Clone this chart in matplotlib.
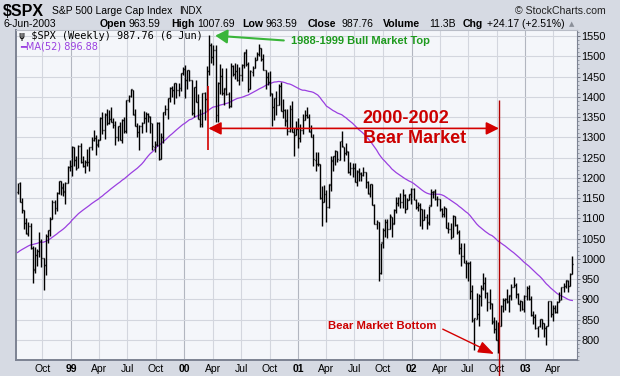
import numpy as np
import pandas as pd
import matplotlib
matplotlib.use('Agg')
import matplotlib.pyplot as plt
import matplotlib.dates as mdates
from matplotlib.ticker import MultipleLocator

plt.rcParams['font.family'] = ['Liberation Sans', 'DejaVu Sans']

# weekly $SPX bars (open, high, low, close); first bar is the week ending 1998-07-17
first_week = '1998-07-17'
bars_1998 = [
    (1164, 1188, 1160, 1186.75), (1186, 1190, 1139, 1140.80), (1140, 1149, 1114, 1120.67),
    (1120, 1121, 1074, 1089.45), (1089, 1100, 1062, 1062.75), (1062, 1092, 1057, 1081.24),
    (1081, 1089, 1025, 1027.14), (1027, 1031, 940, 973.89), (973, 1029, 964, 1009.06),
    (1009, 1025, 981, 1020.09), (1020, 1066, 1005, 1044.75), (1044, 1049, 980, 1002.60),
    (1002, 1003, 923, 984.59), (984, 1062, 959, 1056.42), (1056, 1072, 1039, 1070.67),
    (1070, 1103, 1056, 1098.67), (1098, 1146, 1098, 1141.01), (1141, 1144, 1111, 1125.72),
    (1125, 1164, 1118, 1163.55), (1163, 1193, 1160, 1192.33), (1192, 1193, 1157, 1176.74),
    (1176, 1188, 1155, 1166.46), (1166, 1189, 1136, 1188.03), (1188, 1229, 1188, 1226.27),
    (1226, 1244, 1218, 1229.23),
]
bars_1999 = [
    (1229, 1278, 1205, 1275.09), (1275, 1276, 1229, 1243.26), (1243, 1253, 1220, 1225.19),
    (1225, 1280, 1225, 1279.64), (1279, 1285, 1237, 1239.40), (1239, 1254, 1227, 1230.13),
    (1230, 1243, 1212, 1239.22), (1239, 1272, 1229, 1238.33), (1238, 1275, 1217, 1275.47),
    (1275, 1300, 1268, 1294.59), (1294, 1317, 1290, 1299.29), (1299, 1305, 1257, 1282.80),
    (1282, 1296, 1276, 1293.72), (1293, 1349, 1293, 1348.35), (1348, 1362, 1307, 1319.00),
    (1319, 1360, 1295, 1356.85), (1356, 1370, 1330, 1335.18), (1335, 1367, 1332, 1345.00),
    (1345, 1375, 1337, 1337.80), (1337, 1347, 1324, 1330.29), (1330, 1340, 1281, 1301.84),
    (1301, 1328, 1292, 1327.75), (1327, 1337, 1293, 1293.64), (1293, 1345, 1287, 1342.84),
    (1342, 1349, 1310, 1315.31), (1315, 1391, 1311, 1391.22), (1391, 1405, 1386, 1403.28),
    (1403, 1420, 1399, 1418.78), (1418, 1418, 1355, 1356.94), (1356, 1370, 1328, 1328.72),
    (1328, 1336, 1300, 1313.71), (1313, 1331, 1268, 1327.68), (1327, 1337, 1311, 1336.61),
    (1336, 1365, 1336, 1348.27), (1348, 1362, 1312, 1357.24), (1357, 1359, 1337, 1351.66),
    (1351, 1352, 1310, 1335.42), (1335, 1336, 1268, 1277.36), (1277, 1291, 1263, 1282.81),
    (1282, 1337, 1279, 1336.02), (1336, 1337, 1245, 1247.41), (1247, 1311, 1247, 1301.65),
    (1301, 1362, 1286, 1362.93), (1362, 1379, 1354, 1370.23), (1370, 1397, 1346, 1396.06),
    (1396, 1424, 1387, 1422.00), (1422, 1427, 1400, 1416.62), (1416, 1434, 1383, 1433.30),
    (1433, 1434, 1397, 1417.04), (1417, 1433, 1401, 1421.03), (1421, 1459, 1415, 1458.34),
    (1458, 1473, 1453, 1469.25),
]
bars_2000 = [
    (1469, 1478, 1397, 1441.47), (1441, 1465, 1420, 1465.15), (1465, 1465, 1438, 1441.36),
    (1441, 1441, 1356, 1360.16), (1360, 1425, 1350, 1424.37), (1424, 1441, 1387, 1387.12),
    (1387, 1406, 1346, 1346.09), (1346, 1370, 1325, 1333.36), (1333, 1410, 1325, 1409.17),
    (1409, 1413, 1343, 1395.07), (1395, 1477, 1364, 1464.47), (1464, 1553, 1455, 1527.46),
    (1527, 1534, 1484, 1498.58), (1498, 1527, 1478, 1516.35), (1516, 1528, 1339, 1356.56),
    (1356, 1436, 1339, 1434.54), (1434, 1482, 1407, 1452.43), (1452, 1470, 1405, 1409.57),
    (1409, 1421, 1380, 1420.96), (1420, 1470, 1404, 1406.95), (1406, 1411, 1373, 1378.02),
    (1378, 1483, 1375, 1477.26), (1477, 1479, 1452, 1456.95), (1456, 1483, 1444, 1464.46),
    (1464, 1480, 1438, 1441.48), (1441, 1474, 1430, 1454.60), (1454, 1481, 1438, 1478.90),
    (1478, 1510, 1470, 1509.98), (1509, 1517, 1477, 1480.19), (1480, 1487, 1413, 1419.89),
    (1419, 1467, 1420, 1462.93), (1462, 1475, 1451, 1471.84), (1471, 1499, 1471, 1491.72),
    (1491, 1511, 1491, 1506.45), (1506, 1530, 1500, 1520.77), (1520, 1521, 1488, 1494.50),
    (1494, 1506, 1465, 1465.81), (1465, 1466, 1420, 1448.72), (1448, 1462, 1429, 1436.51),
    (1436, 1464, 1402, 1408.99), (1408, 1409, 1329, 1374.17), (1374, 1398, 1342, 1396.93),
    (1396, 1414, 1356, 1379.58), (1379, 1432, 1379, 1426.69), (1426, 1436, 1365, 1365.98),
    (1365, 1395, 1347, 1367.72), (1367, 1369, 1328, 1341.77), (1341, 1369, 1305, 1315.23),
    (1315, 1380, 1312, 1369.89), (1369, 1390, 1312, 1312.15), (1312, 1323, 1254, 1305.95),
    (1305, 1341, 1305, 1320.28),
]
bars_2001 = [
    (1320, 1347, 1274, 1298.35), (1298, 1333, 1288, 1318.32), (1318, 1357, 1309, 1342.54),
    (1342, 1367, 1342, 1354.95), (1354, 1376, 1348, 1349.47), (1349, 1358, 1312, 1314.76),
    (1314, 1330, 1301, 1301.53), (1301, 1307, 1228, 1245.86), (1245, 1263, 1216, 1234.18),
    (1234, 1263, 1228, 1233.42), (1233, 1233, 1148, 1150.53), (1150, 1180, 1081, 1139.83),
    (1139, 1183, 1139, 1160.33), (1160, 1169, 1091, 1128.43), (1128, 1184, 1126, 1183.50),
    (1183, 1253, 1167, 1242.98), (1242, 1253, 1217, 1253.05), (1253, 1268, 1232, 1266.61),
    (1266, 1267, 1240, 1245.67), (1245, 1292, 1244, 1291.96), (1291, 1316, 1276, 1277.89),
    (1277, 1277, 1242, 1260.67), (1260, 1286, 1256, 1264.96), (1264, 1266, 1213, 1214.36),
    (1214, 1240, 1208, 1225.35), (1225, 1236, 1203, 1224.42), (1224, 1237, 1190, 1190.59),
    (1190, 1219, 1180, 1215.68), (1215, 1225, 1193, 1210.85), (1210, 1215, 1191, 1205.82),
    (1205, 1226, 1205, 1214.35), (1214, 1214, 1175, 1190.16), (1190, 1193, 1161, 1161.97),
    (1161, 1185, 1153, 1184.93), (1184, 1184, 1132, 1133.58), (1133, 1135, 1085, 1085.78),
    (1085, 1096, 1073, 1092.54), (1092, 1092, 944, 965.80), (965, 1040, 962, 1040.94),
    (1040, 1075, 1026, 1071.38), (1071, 1099, 1054, 1091.65), (1091, 1098, 1052, 1073.48),
    (1073, 1110, 1073, 1104.61), (1104, 1104, 1054, 1087.20), (1087, 1124, 1087, 1120.31),
    (1120, 1152, 1112, 1138.65), (1138, 1152, 1131, 1150.34), (1150, 1163, 1125, 1139.45),
    (1139, 1173, 1126, 1158.31), (1158, 1159, 1114, 1123.09), (1123, 1151, 1123, 1144.89),
    (1144, 1161, 1144, 1161.02),
]
bars_2002 = [
    (1161, 1176, 1136, 1172.51), (1172, 1176, 1145, 1145.60), (1145, 1148, 1124, 1127.58),
    (1127, 1139, 1117, 1133.28), (1133, 1138, 1081, 1122.20), (1122, 1122, 1074, 1096.22),
    (1096, 1124, 1096, 1104.18), (1104, 1111, 1074, 1089.84), (1089, 1131, 1084, 1131.78),
    (1131, 1173, 1131, 1164.31), (1164, 1168, 1151, 1166.16), (1166, 1173, 1145, 1148.70),
    (1148, 1155, 1131, 1147.39), (1147, 1148, 1119, 1122.73), (1122, 1125, 1102, 1111.01),
    (1111, 1131, 1102, 1125.17), (1125, 1125, 1076, 1076.32), (1076, 1091, 1063, 1073.43),
    (1073, 1088, 1048, 1054.99), (1054, 1107, 1054, 1106.59), (1106, 1106, 1081, 1083.82),
    (1083, 1085, 1062, 1067.14), (1067, 1070, 1012, 1027.53), (1027, 1038, 981, 1007.27),
    (1007, 1040, 989, 989.14), (989, 997, 952, 989.82), (989, 993, 944, 989.03),
    (989, 994, 900, 921.39), (921, 934, 845, 847.75), (847, 854, 775, 852.84),
    (852, 916, 852, 864.24), (864, 912, 833, 908.64), (908, 935, 883, 928.77),
    (928, 965, 924, 940.86), (940, 955, 903, 916.07), (916, 919, 870, 893.92),
    (893, 925, 877, 889.81), (889, 891, 838, 845.39), (845, 856, 817, 827.37),
    (827, 848, 800, 800.58), (800, 843, 768, 835.32), (835, 886, 835, 884.39),
    (884, 904, 868, 897.65), (897, 902, 873, 900.96), (900, 925, 891, 894.74),
    (894, 910, 868, 909.83), (909, 937, 899, 930.55), (930, 954, 930, 936.31),
    (936, 940, 903, 912.23), (912, 915, 889, 889.48), (889, 899, 871, 895.76),
    (895, 896, 874, 875.40),
]
bars_2003 = [
    (875, 911, 869, 908.59), (908, 932, 899, 927.57), (927, 935, 899, 901.78),
    (901, 907, 858, 861.40), (861, 871, 840, 855.70), (855, 864, 827, 829.69),
    (829, 835, 806, 834.89), (834, 852, 832, 851.17), (851, 852, 827, 841.15),
    (841, 842, 807, 828.89), (828, 834, 788, 833.27), (833, 895, 833, 895.79),
    (895, 895, 855, 863.50), (863, 885, 846, 878.85), (878, 887, 865, 868.30),
    (868, 896, 865, 893.58), (893, 919, 893, 898.81), (898, 931, 898, 930.08),
    (930, 940, 919, 933.41), (933, 947, 927, 946.67), (946, 947, 919, 933.22),
    (933, 965, 932, 963.59), (963.59, 1007.69, 963.59, 987.76),
]
# weekly closes of the 51 weeks before the first bar (feed the 52-week MA)
prior_closes = [
    938.79, 947.14, 933.54, 900.81, 923.54, 899.47, 929.05, 923.91, 950.51, 945.22,
    965.03, 966.98, 944.16, 941.64, 914.62, 927.51, 928.35, 963.09, 955.40, 983.79,
    953.39, 946.78, 936.46, 975.04, 927.69, 961.51, 957.59, 980.28, 1012.46, 1020.09,
    1034.21, 1049.34, 1055.69, 1068.61, 1099.16, 1095.44, 1122.70, 1110.67, 1122.72, 1107.90,
    1121.00, 1108.14, 1108.73, 1110.47, 1090.82, 1113.86, 1098.84, 1100.65, 1133.20, 1146.42,
    1164.33,
]
y_ticks = list(range(800, 1551, 50))
quarters = pd.date_range('1998-10-01', '2003-04-01', freq='QS')

bars = np.array(bars_1998 + bars_1999 + bars_2000 + bars_2001 + bars_2002 + bars_2003)
o, h, l, c = bars.T
weeks = pd.date_range(first_week, periods=len(bars), freq='W-FRI')
x = mdates.date2num(weeks - pd.Timedelta(days=4))
ma = pd.Series(prior_closes + list(c)).rolling(52).mean().to_numpy()[len(prior_closes):]

W, H = 620, 376
fig = plt.figure(figsize=(W / 100, H / 100), dpi=100, facecolor='#d6dae3')
ax = fig.add_axes([16 / W, 16 / H, 561 / W, 330 / H], facecolor='#f4f6fa')

# grid
for d in quarters:
    ax.axvline(mdates.date2num(d), color='#b2b6c0' if d.month == 1 else '#d3d6de',
               lw=0.8, zorder=0)
for v in y_ticks:
    ax.axhline(v, color='#d3d6de', lw=0.8, zorder=0)

# OHLC bars and moving average
ax.vlines(x, l, h, color='black', lw=1.0, zorder=3)
ax.hlines(o, x - 3, x, color='black', lw=1.0, zorder=3)
ax.hlines(c, x, x + 3, color='black', lw=1.0, zorder=3)
ax.plot(x, ma, color='#9a3fe0', lw=0.9, zorder=2)

ax.set_xlim(mdates.date2num(pd.Timestamp('1998-07-08')),
            mdates.date2num(pd.Timestamp('2003-06-17')))
ax.set_ylim(750, 1565)

ax.yaxis.tick_right()
ax.set_yticks(y_ticks)
ax.yaxis.set_minor_locator(MultipleLocator(10))
ax.tick_params(axis='y', which='major', length=2.5, width=0.6, color='#5a606c',
               labelsize=7.8, pad=0.8)
ax.tick_params(axis='y', which='minor', length=1.2, width=0.5, color='#7a808c')
ax.set_xticks(mdates.date2num(quarters))
ax.set_xticklabels([d.strftime('%y') if d.month == 1 else d.strftime('%b') for d in quarters])
for lab, d in zip(ax.get_xticklabels(), quarters):
    if d.month == 1:
        lab.set_fontweight('bold')
ax.tick_params(axis='x', length=0, labelsize=7.5, pad=3)
for side in ('left', 'bottom'):
    ax.spines[side].set_color('#7c8292')
    ax.spines[side].set_linewidth(1.4)
ax.spines['right'].set_color('#7c8292')
ax.spines['right'].set_linewidth(0.8)
ax.spines['top'].set_color('#b8bcc6')
ax.spines['top'].set_linewidth(0.8)

# legend
ax.text(0.005, 0.983, '\u03c8 $SPX (Weekly) 987.76 (6 Jun)', transform=ax.transAxes,
        family='DejaVu Sans Mono', fontsize=7.4, va='center', ha='left', zorder=6)
ax.text(0.007, 0.951, '\u2501MA(52) 896.88', transform=ax.transAxes,
        family='DejaVu Sans', fontsize=7.0, va='center', ha='left', color='#9a3fe0', zorder=6)

# annotations
red = '#d40000'
ti, bi = h.argmax(), l.argmin()
top_x, bot_x = x[ti] - 2, x[bi] + 2
bear_level = 1322
ax.vlines(top_x, 1269, 1427, color=red, lw=1.2, zorder=5)
ax.vlines(bot_x, 711, 1392, color='#b00000', lw=1.0, zorder=5, clip_on=False)
ax.annotate('', xy=(bot_x, bear_level), xytext=(top_x, bear_level), zorder=5,
            arrowprops=dict(arrowstyle='<|-|>,head_length=0.7,head_width=0.35',
                            color=red, lw=1.2, shrinkA=0, shrinkB=0, mutation_scale=11))
ax.text(mdates.date2num(pd.Timestamp('2001-07-28')), bear_level, '2000-2002\nBear Market',
        color='#cc0000', fontsize=13, fontweight='bold', va='center', ha='left',
        linespacing=1.2, zorder=6)
ax.annotate('1988-1999 Bull Market Top', xy=(x[ti] + 20, h[ti] - 2),
            xytext=(mdates.date2num(pd.Timestamp('2000-12-08')), 1538),
            color='#1e9a1e', fontsize=8, fontweight='bold', va='center', ha='left', zorder=6,
            arrowprops=dict(arrowstyle='-|>,head_length=0.6,head_width=0.35', color='#3ab53a',
                            lw=1.5, shrinkA=3, shrinkB=0, mutation_scale=12, relpos=(0, 0.5)))
ax.annotate('Bear Market Bottom', xy=(x[bi] - 14, l[bi] - 3),
            xytext=(mdates.date2num(pd.Timestamp('2001-04-06')), 834),
            color='#cc0000', fontsize=8.2, fontweight='bold', va='center', ha='left', zorder=6,
            arrowprops=dict(arrowstyle='-|>,head_length=0.8,head_width=0.3', color=red,
                            lw=1.0, shrinkA=3, shrinkB=0, mutation_scale=12, relpos=(1, 0.5)))

# header
def ftext(px, py, s, **kw):
    fig.text(px / W, 1 - py / H, s, va='center', **kw)

ftext(3, 11, '$SPX', fontsize=11.5, fontweight='bold')
ftext(52, 11, 'S&P 500 Large Cap Index', fontsize=7.5)
ftext(179, 11, 'INDX', fontsize=7)
ftext(606, 11, '\u00a9 StockCharts.com', fontsize=7.6, ha='right', color='#222222')
ftext(3, 24, '6-Jun-2003', fontsize=7.5)
for px, s, bold in [(99.6, 'Open', True), (128.5, '963.59', False), (170.8, 'High', True),
                    (197.7, '1007.69', False), (242.4, 'Low', True), (266, '963.59', False),
                    (308, 'Close', True), (341, '987.76', False), (383, 'Volume', True),
                    (429, '11.3B', False), (462.6, 'Chg', True), (487, '+24.17 (+2.51%)', False)]:
    ftext(px, 24, s, fontsize=7.6 if bold else 7.5, fontweight='bold' if bold else 'normal')
ftext(569, 24, '\u25b2', fontsize=5, family='DejaVu Sans', color='#8a8f99')

fig.savefig('out.png', dpi=100, facecolor=fig.get_facecolor())
